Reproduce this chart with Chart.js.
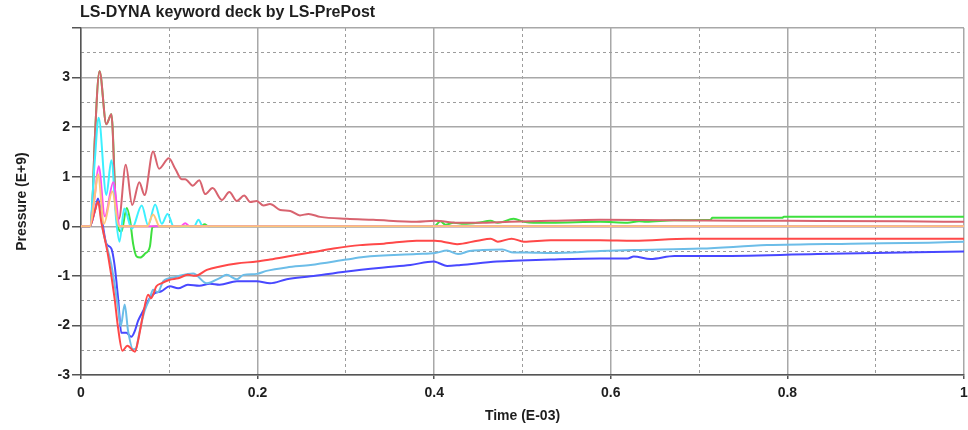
<!DOCTYPE html>
<html>
<head>
<meta charset="utf-8">
<title>Pressure history</title>
<script src="https://cdn.jsdelivr.net/npm/chart.js@4.4.1/dist/chart.umd.min.js"></script>
<style>
  html, body { margin: 0; padding: 0; background: #fff; }
  canvas { display: block; }
</style>
</head>
<body>
<canvas id="pressureChart" width="968" height="430"></canvas>
<script>
const chartTitle = 'LS-DYNA keyword deck by LS-PrePost';
const xTitle = 'Time (E-03)';
const yTitle = 'Pressure (E+9)';

// element pressure histories: time in E-03, pressure in E+9
const timeA = [0, 0.010, 0.013, 0.0155, 0.021, 0.0287, 0.0344, 0.040, 0.043, 0.0507, 0.058, 0.066, 0.072, 0.0816, 0.0884,
  0.0994, 0.107, 0.114, 0.118, 0.1266, 0.134, 0.1406, 0.149, 0.1595, 0.168, 0.1765, 0.1848, 0.1916, 0.199, 0.2067,
  0.214, 0.2256, 0.237, 0.248, 0.2577, 0.271, 0.301, 0.331, 0.38, 0.401, 0.426, 0.449, 0.486, 0.532, 0.588,
  0.664, 0.8, 0.93, 1.0];
const pressA = [0, 0, 0.5, 1.7, 3.13, 2.06, 2.26, 0.23, 0.15, 1.24, 0.43, 0.89, 0.63, 1.51, 1.16,
  1.37, 1.15, 0.95, 0.95, 0.82, 0.93, 0.65, 0.77, 0.53, 0.69, 0.51, 0.62, 0.49, 0.51, 0.42,
  0.45, 0.33, 0.31, 0.22, 0.25, 0.19, 0.15, 0.13, 0.09, 0.11, 0.07, 0.07, 0.09, 0.11, 0.13,
  0.12, 0.11, 0.10, 0.09];

const timeB = [0, 0.010, 0.013, 0.0155, 0.021, 0.0287, 0.0344, 0.040, 0.0457, 0.0518, 0.0556, 0.059, 0.063, 0.067, 0.0726,
  0.078, 0.081, 0.085, 0.136, 0.14, 0.144, 0.400, 0.407, 0.4127, 0.422, 0.4335, 0.449, 0.4637, 0.472, 0.490,
  0.5015, 0.5125, 0.532, 0.588, 0.619, 0.632, 0.640, 0.6716, 0.713, 0.715, 0.794, 0.796, 1.0];
const pressB = [0, 0, 0.5, 1.7, 3.13, 2.06, 2.26, 0.23, -0.11, 0.37, 0.12, -0.35, -0.61, -0.63, -0.55,
  -0.41, -0.01, 0, 0, 0.04, 0, 0, 0.1, 0.03, 0.07, 0.05, 0.07, 0.11, 0.07, 0.15,
  0.09, 0.07, 0.07, 0.09, 0.07, 0.10, 0.09, 0.12, 0.13, 0.17, 0.17, 0.19, 0.19];

const timeC = [0, 0.010, 0.0155, 0.020, 0.0287, 0.0344, 0.040, 0.0435, 0.049, 0.0575, 0.0688, 0.076, 0.084, 0.0915, 0.098,
  0.105, 0.128, 0.133, 0.138, 1.0];
const pressC = [0, 0, 1.3, 2.19, 0.63, 1.33, 0.1, -0.31, 0.36, -0.05, 0.42, 0.02, 0.44, 0.05, 0.25,
  0, 0, 0.13, 0, 0];

const timeD = [0, 0.010, 0.0155, 0.020, 0.027, 0.0366, 0.044, 0.113, 0.118, 0.123, 1.0];
const pressD = [0, 0, 0.6, 1.21, 0.2, 0.89, 0, 0, 0.06, 0, 0];

const timeE = [0, 0.010, 0.0155, 0.0193, 0.026, 0.0355, 0.043, 0.075, 0.0816, 0.089, 1.0];
const pressE = [0, 0, 0.6, 1.05, 0.05, 0.7, 0, 0, 0.24, 0, 0];

const timeF = [0, 0.010, 0.0155, 0.0193, 0.024, 0.0287, 0.0344, 0.038, 0.042, 0.0457, 0.0514, 0.057, 0.061, 0.0646, 0.0703,
  0.0779, 0.0835, 0.091, 0.1005, 0.11, 0.121, 0.134, 0.146, 0.157, 0.1765, 0.199, 0.214, 0.233, 0.26, 0.301,
  0.343, 0.373, 0.3995, 0.405, 0.4146, 0.43, 0.471, 0.498, 0.532, 0.588, 0.619, 0.626, 0.645, 0.672, 0.713,
  0.834, 1.0];
const pressF = [0, 0, 0.3, 0.56, 0.1, -0.35, -0.45, -0.78, -1.45, -2.15, -2.15, -2.23, -2.11, -1.91, -1.71,
  -1.45, -1.35, -1.31, -1.21, -1.25, -1.18, -1.2, -1.16, -1.18, -1.11, -1.11, -1.15, -1.07, -1.01, -0.91,
  -0.83, -0.78, -0.71, -0.74, -0.8, -0.78, -0.71, -0.69, -0.67, -0.65, -0.65, -0.61, -0.66, -0.6, -0.6,
  -0.56, -0.51];

const timeG = [0, 0.010, 0.0155, 0.0193, 0.025, 0.0344, 0.042, 0.045, 0.0495, 0.0533, 0.059, 0.062, 0.0665, 0.072, 0.078,
  0.0816, 0.087, 0.093, 0.099, 0.106, 0.113, 0.121, 0.127, 0.1425, 0.1565, 0.165, 0.1765, 0.184, 0.199, 0.21,
  0.233, 0.26, 0.301, 0.32, 0.38, 0.401, 0.4146, 0.427, 0.44, 0.455, 0.477, 0.49, 0.505, 0.532, 0.588,
  0.626, 0.702, 0.777, 0.872, 0.96, 1.0];
const pressG = [0, 0, 0.3, 0.5, -0.1, -0.78, -1.65, -2.01, -1.58, -2.11, -2.48, -2.47, -2.11, -1.71, -1.45,
  -1.28, -1.33, -1.11, -1.05, -1.03, -0.99, -0.96, -0.95, -1.15, -1.05, -0.98, -1.07, -0.98, -0.96, -0.9,
  -0.83, -0.78, -0.67, -0.62, -0.56, -0.54, -0.49, -0.56, -0.5, -0.48, -0.47, -0.53, -0.53, -0.54, -0.5,
  -0.48, -0.45, -0.38, -0.35, -0.33, -0.31];

const timeH = [0, 0.010, 0.0155, 0.0193, 0.023, 0.0306, 0.038, 0.042, 0.0469, 0.0525, 0.061, 0.0646, 0.0703, 0.076, 0.0794,
  0.0854, 0.091, 0.1005, 0.11, 0.121, 0.1296, 0.1425, 0.1576, 0.1765, 0.199, 0.214, 0.237, 0.26, 0.286, 0.316,
  0.343, 0.38, 0.401, 0.41, 0.426, 0.449, 0.464, 0.472, 0.4877, 0.5015, 0.532, 0.588, 0.626, 0.687, 1.0];
const pressH = [0, 0, 0.3, 0.5, 0.09, -0.58, -1.45, -2.05, -2.51, -2.41, -2.53, -2.31, -1.78, -1.38, -1.45,
  -1.21, -1.15, -1.08, -1.05, -0.98, -1.0, -0.88, -0.81, -0.75, -0.71, -0.67, -0.6, -0.53, -0.45, -0.38,
  -0.35, -0.29, -0.29, -0.31, -0.36, -0.29, -0.25, -0.31, -0.25, -0.31, -0.28, -0.28, -0.29, -0.25, -0.25];

const FONT = "'Liberation Sans', Arial, sans-serif";
const TEXT = '#1e1e1e';

function toPoints(t, p) {
  return t.map((x, i) => ({ x: x, y: p[i] }));
}

// first entry is painted last (on top)
const curves = [
  { t: timeE, p: pressE, color: '#ffc47a' },
  { t: timeD, p: pressD, color: '#ff4ff0' },
  { t: timeC, p: pressC, color: '#3cf0ff' },
  { t: timeA, p: pressA, color: '#d8636f' },
  { t: timeB, p: pressB, color: '#3ee03e' },
  { t: timeH, p: pressH, color: '#ff4848' },
  { t: timeG, p: pressG, color: '#6cbde8' },
  { t: timeF, p: pressF, color: '#4848ff' }
];

const datasets = curves.map(c => ({
  data: toPoints(c.t, c.p),
  borderColor: c.color,
  borderWidth: 2,
  pointRadius: 0,
  fill: false,
  cubicInterpolationMode: 'monotone'
}));

const isStep = (v, step) => Math.abs(v / step - Math.round(v / step)) < 1e-6;

// plot title drawn flush with the left edge of the plot frame
const topTitle = {
  id: 'topTitle',
  afterDraw(chart) {
    const ctx = chart.ctx;
    ctx.save();
    ctx.fillStyle = TEXT;
    ctx.font = 'bold 16px ' + FONT;
    ctx.textBaseline = 'middle';
    ctx.textAlign = 'left';
    ctx.fillText(chartTitle, chart.chartArea.left - 1, 13);
    ctx.restore();
  }
};

new Chart(document.getElementById('pressureChart'), {
  type: 'line',
  data: { datasets },
  plugins: [topTitle],
  options: {
    responsive: false,
    animation: false,
    devicePixelRatio: 1,
    layout: { padding: { top: 28, right: 4, left: 0, bottom: 0 } },
    plugins: { legend: { display: false }, tooltip: { enabled: false } },
    scales: {
      x: {
        type: 'linear', position: 'bottom', min: 0, max: 1,
        ticks: {
          stepSize: 0.2, maxRotation: 0, padding: 6, color: TEXT,
          font: { family: FONT, size: 14, weight: 'bold' },
          callback: v => String(Number(v.toFixed(1)))
        },
        grid: { color: '#a8a8a8', lineWidth: 1.5, tickLength: 4, tickColor: '#555' },
        border: { color: '#555', width: 1.5 },
        title: {
          display: true, text: xTitle, color: TEXT,
          font: { family: FONT, size: 14, weight: 'bold' },
          padding: { top: 0, bottom: 5 }
        },
        // let the last label hang past the frame instead of shrinking the plot
        afterFit: s => { s.height = 55; s.paddingLeft = 0; s.paddingRight = 0; }
      },
      xMinor: {
        type: 'linear', position: 'bottom', min: 0, max: 1,
        ticks: { stepSize: 0.1, display: false },
        grid: {
          drawTicks: false, lineWidth: 1,
          color: ctx => isStep(ctx.tick.value, 0.2) ? 'rgba(0,0,0,0)' : '#9c9c9c'
        },
        border: { display: false, dash: [3, 3] },
        afterFit: s => { s.height = 0; s.paddingLeft = 0; s.paddingRight = 0; }
      },
      y: {
        type: 'linear', position: 'left', min: -3, max: 4,
        ticks: {
          stepSize: 1, padding: 2, color: TEXT,
          font: { family: FONT, size: 14, weight: 'bold' },
          callback: v => v === 4 ? '' : String(v)
        },
        grid: { color: '#a8a8a8', lineWidth: 1.5, tickLength: 9, tickColor: '#555' },
        border: { color: '#555', width: 1.5 },
        title: {
          display: true, text: yTitle, color: TEXT,
          font: { family: FONT, size: 14, weight: 'bold' },
          padding: { top: 14, bottom: 0 }
        },
        afterFit: s => { s.width = 81; }
      },
      yMinor: {
        type: 'linear', position: 'left', min: -3, max: 4,
        ticks: { stepSize: 0.5, display: false },
        grid: {
          drawTicks: false, lineWidth: 1,
          color: ctx => isStep(ctx.tick.value, 1) ? 'rgba(0,0,0,0)' : '#9c9c9c'
        },
        border: { display: false, dash: [3, 3] },
        afterFit: s => { s.width = 0; }
      }
    }
  }
});
</script>
</body>
</html>
